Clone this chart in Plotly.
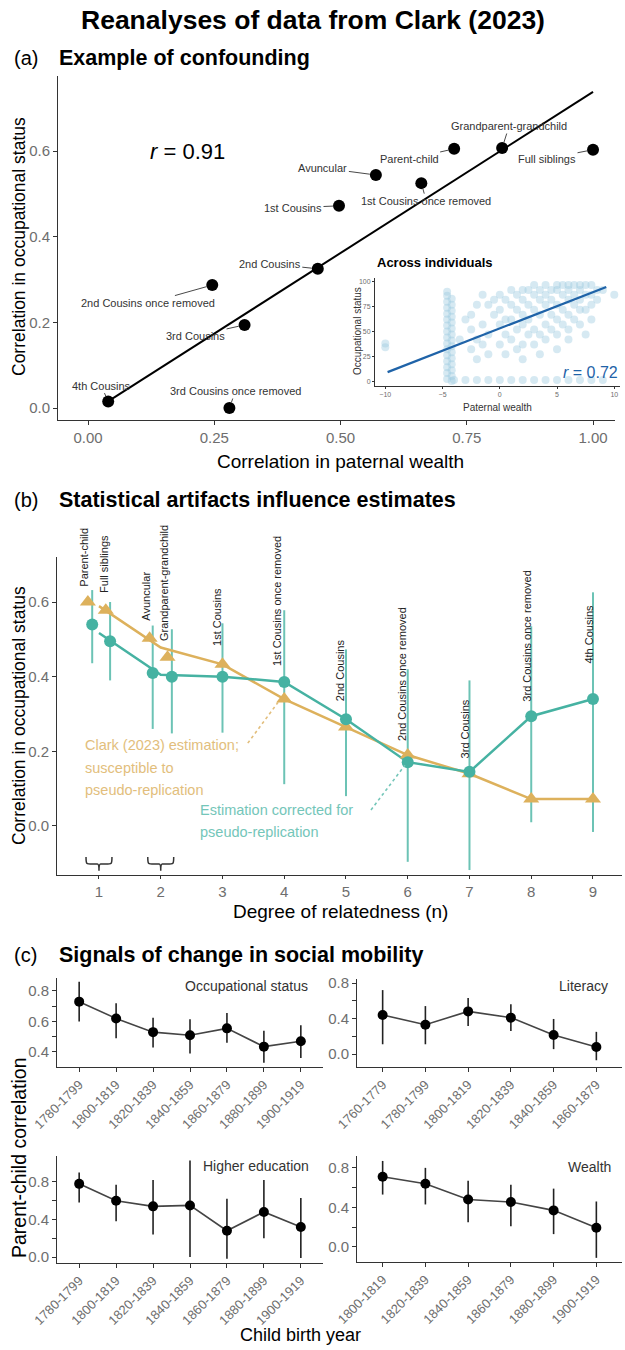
import plotly.graph_objects as go

W, H = 625, 1350
FONT = "Liberation Sans, Arial, Helvetica, sans-serif"
AX = "#333333"
TICKC = "#6e6e6e"
TEAL = "#46B2A2"
TEAL_BAR = "#6CC3B5"
GOLD = "#DDB15C"
GOLD_TXT = "#E2BE7C"
TEAL_TXT = "#74C6B9"
BLUE = "#1F63A8"

# ---------------- data ----------------
# (a) relatedness categories
relations = ["Parent-child", "Full siblings", "Avuncular", "Grandparent-grandchild",
             "1st Cousins", "1st Cousins once removed", "2nd Cousins",
             "2nd Cousins once removed", "3rd Cousins", "3rd Cousins once removed",
             "4th Cousins"]
wealth_corr = [0.725, 1.00, 0.57, 0.82, 0.497, 0.66, 0.455, 0.246, 0.31, 0.28, 0.04]
occ_corr = [0.605, 0.603, 0.544, 0.607, 0.472, 0.525, 0.325, 0.287, 0.194, 0.0, 0.015]
fit_x = [0.035, 1.0]
fit_y = [0.012, 0.738]
r_main = "0.91"

# inset: individuals (paternal wealth, occupational status)
ind_x = [
    # dense band near -4.5
    -4.6, -4.6, -4.6, -4.6, -4.6, -4.6, -4.6, -4.6, -4.6, -4.6, -4.6, -4.6, -4.6, -4.6, -4.6, -4.6,
    -4.2, -4.2, -4.2, -4.2, -4.2, -4.2, -4.2, -4.2, -4.2, -4.2, -4.2, -4.2, -4.2, -4.2, -4.2,
    # cloud, row by row
    3, 4, 5, 5.5, 6, 6.5, 7, 7.5, 8,
    1, 2, 2.5, 3.5, 4.5, 5, 6, 7, 8.5, 9,
    -1.5, 0, 1.5, 3, 4, 5.5, 6.5, 7.5, 8, 10,
    -0.5, 0.5, 2, 3.5, 4.5, 6, 7, 8.5,
    -2, -1, 1, 2.5, 4, 5, 6.5, 8,
    0, 1.5, 3, 5.5, 7, 7.5,
    -2.5, -0.5, 2, 3.5, 4.5, 6,
    -3, 0.5, 1, 2.5, 5, 6.5, 8,
    -1.5, 0, 2, 4, 5.5, 7,
    -2.5, 1.5, 3, 4.5, 6,
    -1, 0.5, 2.5, 3.5, 5, 7.5,
    -3.5, -2, 1, 4, 6,
    -1.5, 0, 2, 3,
    -2.5, 1.5, 5,
    -1, 0.5, 3.5,
    -2, 2,
    # zero row
    -4, -3, -2, -1, 0, 1, 2, 3, 4, 5, 6, 7, 8, 9,
    # outliers
    -10, -10]
ind_y = [
    2, 8, 14, 20, 26, 32, 38, 44, 50, 56, 62, 68, 74, 80, 86, 90,
    0, 5, 11, 17, 23, 29, 35, 41, 47, 53, 59, 65, 71, 77, 83,
    97, 97, 97, 97, 97, 97, 97, 97, 97,
    92, 92, 92, 92, 92, 92, 92, 92, 92, 92,
    87, 87, 87, 87, 87, 87, 87, 87, 87, 87,
    82, 82, 82, 82, 82, 82, 82, 82,
    77, 77, 77, 77, 77, 77, 77, 77,
    72, 72, 72, 72, 72, 72,
    67, 67, 67, 67, 67, 67,
    62, 62, 62, 62, 62, 62, 62,
    57, 57, 57, 57, 57, 57,
    52, 52, 52, 52, 52,
    47, 47, 47, 47, 47, 47,
    42, 42, 42, 42, 42,
    37, 37, 37, 37,
    32, 32, 32,
    27, 27, 27,
    22, 22,
    1, 1, 1, 1, 1, 1, 1, 1, 1, 1, 1, 1, 1, 1,
    38, 34]
ind_fit_x = [-9.8, 9.3]
ind_fit_y = [9, 95]
r_ind = "0.72"

# (b) degree of relatedness
degrees = [1, 2, 3, 4, 5, 6, 7, 8, 9]
teal_x = [0.89, 1.18, 1.87, 2.18, 3, 4, 5, 6, 7, 8, 9]
teal_est = [0.54, 0.495, 0.41, 0.40, 0.40, 0.386, 0.286, 0.171, 0.145, 0.294, 0.34]
teal_lo = [0.436, 0.39, 0.26, 0.248, 0.25, 0.112, 0.08, -0.096, -0.118, 0.01, -0.016]
teal_hi = [0.632, 0.60, 0.537, 0.527, 0.543, 0.578, 0.473, 0.42, 0.39, 0.535, 0.626]
clark_x = [0.82, 1.11, 1.82, 2.11, 3, 4, 5, 6, 7, 8, 9]
clark_est = [0.60, 0.578, 0.503, 0.452, 0.433, 0.34, 0.265, 0.19, 0.14, 0.072, 0.072]
teal_line = [0.517, 0.405, 0.40, 0.386, 0.286, 0.171, 0.145, 0.294, 0.34]
clark_line = [0.589, 0.478, 0.433, 0.34, 0.265, 0.19, 0.14, 0.072, 0.072]

# (c) parent-child correlations by child birth year
occ_periods = ["1780-1799", "1800-1819", "1820-1839", "1840-1859", "1860-1879", "1880-1899", "1900-1919"]
occ_est = [0.73, 0.62, 0.53, 0.51, 0.555, 0.435, 0.47]
occ_lo = [0.60, 0.49, 0.43, 0.39, 0.46, 0.33, 0.36]
occ_hi = [0.86, 0.72, 0.625, 0.615, 0.655, 0.54, 0.575]

lit_periods = ["1760-1779", "1780-1799", "1800-1819", "1820-1839", "1840-1859", "1860-1879"]
lit_est = [0.44, 0.33, 0.48, 0.41, 0.215, 0.08]
lit_lo = [0.11, 0.11, 0.315, 0.26, 0.055, -0.07]
lit_hi = [0.72, 0.54, 0.63, 0.56, 0.395, 0.25]

edu_periods = ["1780-1799", "1800-1819", "1820-1839", "1840-1859", "1860-1879", "1880-1899", "1900-1919"]
edu_est = [0.78, 0.60, 0.54, 0.55, 0.28, 0.48, 0.32]
edu_lo = [0.58, 0.38, 0.24, 0.0, -0.02, 0.20, -0.01]
edu_hi = [0.90, 0.77, 0.82, 1.03, 0.62, 0.82, 0.63]

wealth_periods = ["1800-1819", "1820-1839", "1840-1859", "1860-1879", "1880-1899", "1900-1919"]
wealth_est = [0.71, 0.64, 0.48, 0.455, 0.37, 0.195]
wealth_lo = [0.53, 0.43, 0.25, 0.21, 0.13, -0.11]
wealth_hi = [0.87, 0.80, 0.67, 0.63, 0.59, 0.46]


# ---------------- helpers ----------------
def dx(a, b):
    return [a / W, b / W]


def dy(top, bottom):
    return [1 - bottom / H, 1 - top / H]


def px(p):
    return p / W


def py(p):
    return 1 - p / H


def axis(domain, rng, tickvals, ticktext=None, size=15, anchor=None, angle=0, lw=1, tl=4):
    d = dict(domain=domain, range=rng, showline=True, linecolor=AX, linewidth=lw,
             ticks="outside", ticklen=tl, tickwidth=1, tickcolor=AX, automargin=False,
             tickvals=tickvals, showgrid=False, zeroline=False, fixedrange=True,
             tickfont=dict(size=size, color=TICKC, family=FONT), tickangle=angle)
    if ticktext is not None:
        d["ticktext"] = ticktext
    if anchor:
        d["anchor"] = anchor
    return d


fig = go.Figure()

# ---------------- panel (a) ----------------
fig.add_trace(go.Scatter(x=fit_x, y=fit_y, mode="lines", line=dict(color="black", width=2),
                         xaxis="x", yaxis="y", hoverinfo="skip"))
fig.add_trace(go.Scatter(x=wealth_corr, y=occ_corr, mode="markers",
                         marker=dict(color="black", size=12), xaxis="x", yaxis="y",
                         text=relations))

# inset
fig.add_trace(go.Scatter(x=ind_x, y=ind_y, mode="markers",
                         marker=dict(color="#9ECAE1", size=8, opacity=0.42, line=dict(width=0)),
                         xaxis="x2", yaxis="y2"))
fig.add_trace(go.Scatter(x=ind_fit_x, y=ind_fit_y, mode="lines", line=dict(color=BLUE, width=2.2),
                         xaxis="x2", yaxis="y2"))

# ---------------- panel (b) ----------------
fig.add_trace(go.Scatter(
    x=teal_x, y=teal_est, mode="markers", marker=dict(size=1, color="rgba(0,0,0,0)"),
    error_y=dict(type="data", symmetric=False,
                 array=[h - e for h, e in zip(teal_hi, teal_est)],
                 arrayminus=[e - l for e, l in zip(teal_est, teal_lo)],
                 color=TEAL_BAR, thickness=2, width=0),
    xaxis="x3", yaxis="y3"))
fig.add_trace(go.Scatter(x=degrees, y=clark_line, mode="lines", line=dict(color=GOLD, width=2.5),
                         xaxis="x3", yaxis="y3"))
fig.add_trace(go.Scatter(x=degrees, y=teal_line, mode="lines", line=dict(color=TEAL, width=2.5),
                         xaxis="x3", yaxis="y3"))
fig.add_trace(go.Scatter(x=clark_x, y=clark_est, mode="markers",
                         marker=dict(symbol="triangle-up", size=14, color=GOLD),
                         xaxis="x3", yaxis="y3"))
fig.add_trace(go.Scatter(x=teal_x, y=teal_est, mode="markers",
                         marker=dict(symbol="circle", size=12, color=TEAL),
                         xaxis="x3", yaxis="y3"))

# ---------------- panel (c) ----------------
c_sets = [
    (occ_periods, occ_est, occ_lo, occ_hi, "x4", "y4"),
    (lit_periods, lit_est, lit_lo, lit_hi, "x5", "y5"),
    (edu_periods, edu_est, edu_lo, edu_hi, "x6", "y6"),
    (wealth_periods, wealth_est, wealth_lo, wealth_hi, "x7", "y7"),
]
for periods, est, lo, hi, xa, ya in c_sets:
    idx = list(range(len(periods)))
    fig.add_trace(go.Scatter(x=idx, y=est, mode="lines", line=dict(color="#444444", width=1.6),
                             xaxis=xa, yaxis=ya))
    fig.add_trace(go.Scatter(
        x=idx, y=est, mode="markers", marker=dict(color="black", size=10),
        error_y=dict(type="data", symmetric=False,
                     array=[h - e for h, e in zip(hi, est)],
                     arrayminus=[e - l for e, l in zip(est, lo)],
                     color="#222222", thickness=1.6, width=0),
        xaxis=xa, yaxis=ya))

# ---------------- axes ----------------
layout_axes = dict(
    xaxis=axis(dx(58, 615), [-0.0594, 1.0435], [0, 0.25, 0.5, 0.75, 1.0],
               ["0.00", "0.25", "0.50", "0.75", "1.00"], anchor="y"),
    yaxis=axis(dy(76, 420), [-0.028, 0.7751], [0, 0.2, 0.4, 0.6],
               ["0.0", "0.2", "0.4", "0.6"], anchor="x"),
    xaxis2=axis(dx(375, 620), [-10.9, 10.5], [-10, -5, 0, 5, 10], size=7, anchor="y2", tl=2, lw=1),
    yaxis2=axis(dy(278, 386), [-5, 104], [0, 25, 50, 75, 100], size=7, anchor="x2", tl=2, lw=1),
    xaxis3=axis(dx(57, 622), [0.32, 9.47], degrees, size=15, anchor="y3", tl=3),
    yaxis3=axis(dy(557, 875), [-0.1313, 0.7206], [0, 0.2, 0.4, 0.6],
                ["0.0", "0.2", "0.4", "0.6"], anchor="x3"),
    xaxis4=axis(dx(57, 323), [-0.6, 6.6], list(range(7)), occ_periods, size=13, anchor="y4", angle=-45),
    yaxis4=axis(dy(978, 1067), [0.3016, 0.885], [0.4, 0.5, 0.6, 0.7, 0.8],
                ["0.4", "", "0.6", "", "0.8"], anchor="x4"),
    xaxis5=axis(dx(357, 622), [-0.6, 5.6], list(range(6)), lit_periods, size=13, anchor="y5", angle=-45),
    yaxis5=axis(dy(979, 1067), [-0.146, 0.845], [0, 0.2, 0.4, 0.6, 0.8],
                ["0.0", "", "0.4", "", "0.8"], anchor="x5"),
    xaxis6=axis(dx(57, 323), [-0.6, 6.6], list(range(7)), edu_periods, size=13, anchor="y6", angle=-45),
    yaxis6=axis(dy(1156, 1263), [-0.064, 1.077], [0, 0.2, 0.4, 0.6, 0.8],
                ["0.0", "", "0.4", "", "0.8"], anchor="x6"),
    xaxis7=axis(dx(357, 622), [-0.6, 5.6], list(range(6)), wealth_periods, size=13, anchor="y7", angle=-45),
    yaxis7=axis(dy(1156, 1262), [-0.152, 0.92], [0, 0.2, 0.4, 0.6, 0.8],
                ["0.0", "", "0.4", "", "0.8"], anchor="x7"),
)

ann = []


def text(x, y, s, size, color="black", bold=False, xanchor="left", angle=0):
    t = f"<b>{s}</b>" if bold else s
    ann.append(dict(x=px(x), y=py(y), xref="paper", yref="paper", text=t, showarrow=False,
                    xanchor=xanchor, yanchor="middle", textangle=angle,
                    font=dict(size=size, color=color, family=FONT)))


# titles
text(313, 20, "Reanalyses of data from Clark (2023)", 26.5, bold=True, xanchor="center")
text(12, 58, "(a)", 20)
text(57, 58, "Example of confounding", 21.5, bold=True)
text(12, 500, "(b)", 20)
text(57, 500, "Statistical artifacts influence estimates", 21.5, bold=True)
text(12, 955, "(c)", 20)
text(57, 955, "Signals of change in social mobility", 21.5, bold=True)

# axis titles
text(19, 247, "Correlation in occupational status", 17.5, xanchor="center", angle=-90)
text(340, 461, "Correlation in paternal wealth", 19, xanchor="center")
text(19, 716, "Correlation in occupational status", 17.5, xanchor="center", angle=-90)
text(340, 911, "Degree of relatedness (n)", 19, xanchor="center")
text(19, 1158, "Parent-child correlation", 19.5, xanchor="center", angle=-90)
text(300, 1335, "Child birth year", 18, xanchor="center")

# panel (a) extras
text(148, 152, "<i>r</i> = " + r_main, 22)
text(375, 263, "Across individuals", 13, bold=True)
text(357, 331, "Occupational status", 10, color="#333", xanchor="center", angle=-90)
text(497, 407, "Paternal wealth", 10, color="#333", xanchor="center")
text(620, 372, "<i>r</i> = " + r_ind, 16, color=BLUE, xanchor="right")

# repel-style labels (pixel offsets of label centre from the point)
label_offsets = [(-45, 10), (-46, 9), (-53, -7), (7, -22), (-46, 2), (5, 18),
                 (-48, -5), (-64, 18), (-49, 11), (6, -17), (-7, -16)]
for name, xv, yv, (ox, oy) in zip(relations, wealth_corr, occ_corr, label_offsets):
    ann.append(dict(x=xv, y=yv, xref="x", yref="y", text=name, showarrow=True,
                    ax=ox, ay=oy, arrowhead=0, arrowwidth=0.9, arrowcolor="#333",
                    standoff=6, font=dict(size=11, color="#333", family=FONT)))

# panel (b) vertical labels: (x, bottom y) in data units
vlabel_pos = [(0.757, 0.637), (1.081, 0.619), (1.761, 0.546), (2.053, 0.49), (2.911, 0.477),
              (3.883, 0.423), (4.903, 0.329), (5.907, 0.222), (6.927, 0.177), (7.931, 0.329),
              (8.935, 0.431)]
for name, (xv, yv) in zip(relations, vlabel_pos):
    ann.append(dict(x=xv, y=yv, xref="x3", yref="y3", text=name, showarrow=False,
                    textangle=-90, xanchor="center", yanchor="bottom",
                    font=dict(size=11, color="#222", family=FONT)))

text(83, 745, "Clark (2023) estimation;", 14.5, color=GOLD_TXT)
text(83, 768, "susceptible to", 14.5, color=GOLD_TXT)
text(83, 790, "pseudo-replication", 14.5, color=GOLD_TXT)
text(198, 810, "Estimation corrected for", 14.5, color=TEAL_TXT)
text(198, 832, "pseudo-replication", 14.5, color=TEAL_TXT)

# panel (c) facet labels
text(310, 986, "Occupational status", 14, color="#333", xanchor="right")
text(610, 986, "Literacy", 14, color="#333", xanchor="right")
text(311, 1166, "Higher education", 14, color="#333", xanchor="right")
text(613, 1167, "Wealth", 14, color="#333", xanchor="right")

# ---------------- shapes ----------------
shapes = []
shapes.append(dict(type="line", xref="x3", yref="y3", x0=3.41, y0=0.222, x1=3.93, y1=0.338,
                   line=dict(color=GOLD_TXT, width=1.6, dash="dot")))
shapes.append(dict(type="line", xref="x3", yref="y3", x0=5.405, y0=0.043, x1=5.955, y1=0.163,
                   line=dict(color=TEAL_TXT, width=1.6, dash="dot")))
for c in degrees[:2]:
    w = 0.21
    yt, ym, yb = -0.083, -0.102, -0.12
    path = (f"M {c - w},{yt} C {c - w},{ym} {c - w},{ym} {c - w / 2},{ym} "
            f"L {c - 0.12 * w},{ym} Q {c},{ym} {c},{yb} Q {c},{ym} {c + 0.12 * w},{ym} "
            f"L {c + w / 2},{ym} C {c + w},{ym} {c + w},{ym} {c + w},{yt}")
    shapes.append(dict(type="path", xref="x3", yref="y3", path=path,
                       line=dict(color=AX, width=1.5)))

fig.update_layout(
    width=W, height=H, autosize=False, showlegend=False,
    margin=dict(l=0, r=0, t=0, b=0, autoexpand=False),
    paper_bgcolor="white", plot_bgcolor="white",
    font=dict(family=FONT),
    annotations=ann, shapes=shapes,
    **layout_axes,
)

fig.write_html("out.html", config={"displayModeBar": False},
               post_script="document.body.style.margin='0px';document.body.style.overflow='hidden';")
